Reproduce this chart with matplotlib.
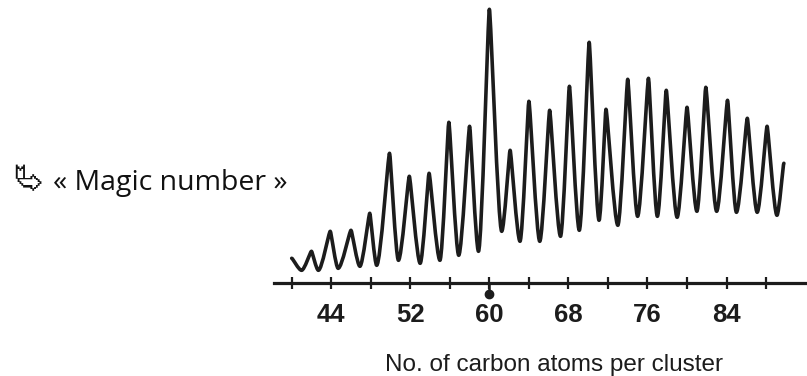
import matplotlib
matplotlib.use("Agg")
import matplotlib.pyplot as plt
from matplotlib.path import Path
from matplotlib.patches import PathPatch
from matplotlib import font_manager
from matplotlib.ft2font import FT2Font

# ---- data (cluster size, relative signal) ----
# alternating turning points of the recorded trace: start, valley, peak, valley, ... , end
trace_n = [40.0, 41.0, 42.0, 42.7, 43.9, 44.7, 46.0, 46.9, 47.9, 48.6,
           49.9, 50.8, 51.9, 53.0, 53.9, 55.0, 55.9, 56.9, 58.0, 58.9,
           60.0, 61.25, 62.1, 63.1, 64.0, 65.1, 66.1, 67.2, 68.1, 69.1,
           70.1, 71.1, 71.8, 73.0, 74.0, 75.0, 76.1, 77.0, 77.9, 79.0,
           80.0, 81.0, 81.9, 83.0, 84.1, 85.0, 86.1, 87.1, 88.1, 89.1, 89.8]
trace_i = [25, 13, 32, 13, 52, 15, 53, 17, 70, 18,
           130, 23, 107, 20, 110, 23, 161, 28, 157, 32,
           274, 52, 133, 42, 182, 42, 173, 47, 197, 53,
           241, 63, 174, 58, 204, 67, 205, 67, 193, 66,
           176, 72, 196, 72, 183, 71, 165, 71, 157, 68, 120]

major_ticks = [44, 52, 60, 68, 76, 84]
minor_ticks = [40, 48, 56, 64, 72, 80, 88]
magic_n = 60

xlabel = "No. of carbon atoms per cluster"
note_text = "« Magic number »"

W, H = 807, 376
fig = plt.figure(figsize=(W / 100, H / 100), dpi=100)
fig.patch.set_facecolor("white")

# axes placed in pixel terms: x from 274 to 807 px, x-axis line at 283.3 px from top
ax_left, ax_right, ax_axis_y = 274, 807, 283.3
ax = fig.add_axes([ax_left / W, (H - ax_axis_y) / H,
                   (ax_right - ax_left) / W, ax_axis_y / H])
px_per_atom = 9.883
x0 = 40 - (291.7 - ax_left) / px_per_atom
x1 = x0 + (ax_right - ax_left) / px_per_atom
ax.set_xlim(x0, x1)
ax.set_ylim(0, ax_axis_y)
ax.patch.set_alpha(0)

# smooth trace through the turning points: rounded valleys, narrow rounded peaks
k_valley, k_peak = 0.30, 0.12
verts = [(trace_n[0], trace_i[0])]
codes = [Path.MOVETO]
for j in range(1, len(trace_n)):
    ax_, ay_ = trace_n[j - 1], trace_i[j - 1]
    bx_, by_ = trace_n[j], trace_i[j]
    dx = bx_ - ax_
    if by_ < ay_:  # peak -> valley
        c1 = (ax_ + k_peak * dx, ay_)
        c2 = (bx_ - k_valley * dx, by_)
    else:  # valley -> peak
        c1 = (ax_ + k_valley * dx, ay_)
        c2 = (bx_ - k_peak * dx, by_)
    verts += [c1, c2, (bx_, by_)]
    codes += [Path.CURVE4] * 3
trace = PathPatch(Path(verts, codes), fill=False, edgecolor="#1c1c1c",
                  lw=2.6, joinstyle="round", capstyle="round")
ax.add_patch(trace)

for s in ("top", "left", "right"):
    ax.spines[s].set_visible(False)
ax.spines["bottom"].set_linewidth(2.3)
ax.spines["bottom"].set_color("#1c1c1c")
ax.set_yticks([])
ax.set_xticks(major_ticks)
ax.set_xticks(minor_ticks, minor=True)
ax.tick_params(axis="x", which="both", direction="inout", length=9.0,
               width=1.6, color="#1c1c1c")
ax.tick_params(axis="x", which="major", labelsize=18.5, pad=10, labelcolor="#1c1c1c")
for lab in ax.get_xticklabels():
    lab.set_fontfamily("Liberation Sans")
    lab.set_fontweight("bold")

# small drop marker under C60
ax.plot([magic_n, magic_n], [0, -10], color="#1c1c1c", lw=1.8, clip_on=False,
        solid_capstyle="butt")
ax.plot([magic_n], [-11], marker="o", ms=6, color="#1c1c1c", clip_on=False)

fig.text(554 / W, 1 - 371.5 / H, xlabel, ha="center", va="baseline",
         fontsize=17.5, family="Liberation Sans", color="#1c1c1c")


def find_font(ch):
    cp = ord(ch)
    for f in font_manager.fontManager.ttflist:
        try:
            if cp in FT2Font(f.fname).get_charmap():
                return f.name
        except Exception:
            pass
    return None


arrow_ch = "\u2BB1"
fam = find_font(arrow_ch)
if fam is None:
    arrow_ch = "\u21B3"
    fam = "DejaVu Sans"
fig.text(28 / W, 1 - 180 / H, arrow_ch, ha="center", va="center",
         fontsize=21, family=[fam, "DejaVu Sans"], color="#111111")
fig.text(53 / W, 1 - 190 / H, note_text, ha="left", va="baseline",
         fontsize=20.5, family=["Open Sans", "DejaVu Sans"], color="#111111")

fig.savefig("out.png", dpi=100, facecolor="white")
